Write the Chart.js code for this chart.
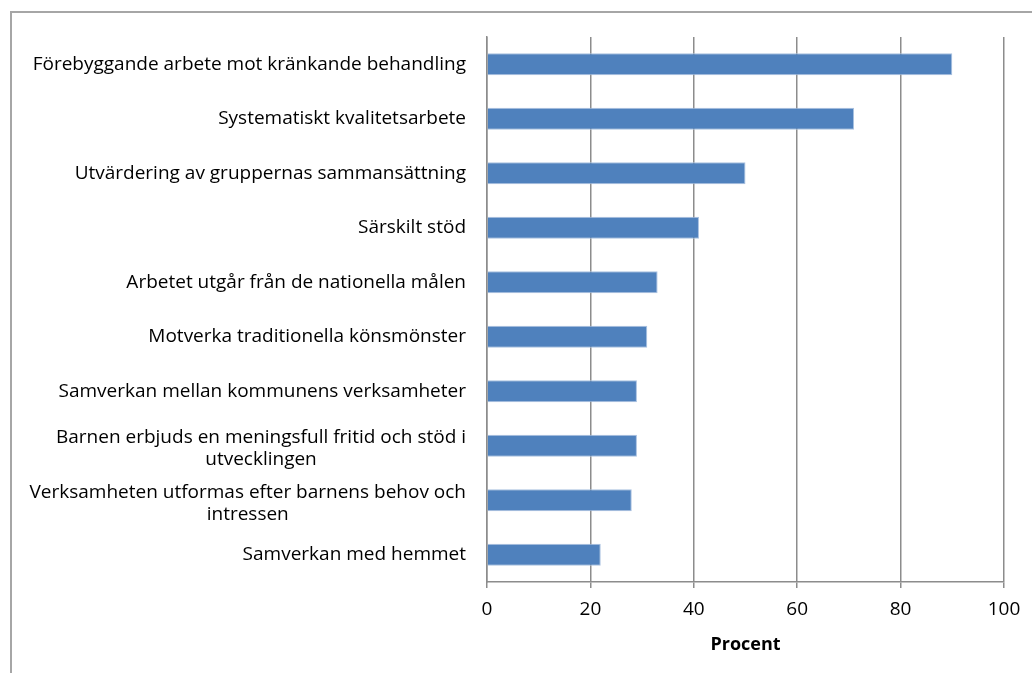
<!DOCTYPE html>
<html>
<head>
<meta charset="utf-8">
<script src="https://cdn.jsdelivr.net/npm/chart.js@4.4.0/dist/chart.umd.min.js"></script>
<style>
  html, body { margin: 0; padding: 0; background: #fff; }
  #wrap { position: relative; width: 1032px; height: 673px; overflow: hidden; }
  #frame { position: absolute; left: 10px; top: 11px; width: 1040px; height: 700px;
           border: 2px solid #a6a6a6; box-sizing: border-box; }
  #c { position: absolute; left: 0; top: 0; }
</style>
</head>
<body>
<div id="wrap">
  <div id="frame"></div>
  <canvas id="c" width="1032" height="673"></canvas>
</div>
<script>
// categories, top to bottom
const labels = [
  'Förebyggande arbete mot kränkande behandling',
  'Systematiskt kvalitetsarbete',
  'Utvärdering av gruppernas sammansättning',
  'Särskilt stöd',
  'Arbetet utgår från de nationella målen',
  'Motverka traditionella könsmönster',
  'Samverkan mellan kommunens verksamheter',
  ['Barnen erbjuds en meningsfull fritid och stöd i', 'utvecklingen'],
  ['Verksamheten utformas efter barnens behov och', 'intressen'],
  'Samverkan med hemmet'
]
const procent = [90, 71, 50, 41, 33, 31, 29, 29, 28, 22]
const xTicks = [0, 20, 40, 60, 80, 100]

const font = '"Open Sans", "Noto Sans", sans-serif'
const gridGray = '#8c8c8c'
const labelSize = 19

// category labels: right aligned, wrapped lines centred on each other (like Excel)
const catLabels = {
  id: 'catLabels',
  afterDraw(chart) {
    const y = chart.scales.y
    const c = chart.ctx
    const right = y.right - 21
    const lh = 22
    c.save()
    c.font = labelSize + 'px ' + font
    c.fillStyle = '#000'
    c.textBaseline = 'middle'
    chart.data.labels.forEach((lab, i) => {
      const cy = y.getPixelForValue(i)
      const lines = Array.isArray(lab) ? lab : [lab]
      const w = Math.max(...lines.map(l => c.measureText(l).width))
      const shift = lines.length > 1 ? 3 : 0
      c.textAlign = 'center'
      lines.forEach((l, k) => {
        const ly = cy + shift + (k - (lines.length - 1) / 2) * lh
        c.fillText(l, right - w / 2, ly)
      })
    })
    c.restore()
  }
}

const ctx = document.getElementById('c').getContext('2d')
new Chart(ctx, {
  type: 'bar',
  data: {
    labels: labels,
    datasets: [{
      label: 'Procent',
      data: procent,
      backgroundColor: '#4f81bd',
      borderColor: '#a9c1e0',
      borderWidth: 1,
      categoryPercentage: 0.8,
      barPercentage: 0.5
    }]
  },
  options: {
    indexAxis: 'y',
    responsive: false,
    animation: false,
    layout: { padding: { top: 37, right: 28, bottom: 0, left: 0 } },
    plugins: { legend: { display: false }, tooltip: { enabled: false } },
    scales: {
      x: {
        min: 0,
        max: 100,
        afterBuildTicks: s => { s.ticks = xTicks.map(v => ({ value: v })) },
        afterFit: s => { s.height = 91 },
        grid: { color: gridGray, lineWidth: 1.5, tickLength: 6 },
        border: { color: gridGray, width: 1.5 },
        ticks: { color: '#000', padding: 10, font: { family: font, size: labelSize } },
        title: {
          display: true,
          text: 'Procent',
          color: '#000',
          font: { family: font, size: 18, weight: 'bold' },
          padding: { top: 0, bottom: 17 }
        }
      },
      y: {
        afterFit: s => { s.width = 487 },
        grid: { display: false },
        border: { color: gridGray, width: 1.5 },
        ticks: { display: false }
      }
    }
  },
  plugins: [catLabels]
})
</script>
</body>
</html>
